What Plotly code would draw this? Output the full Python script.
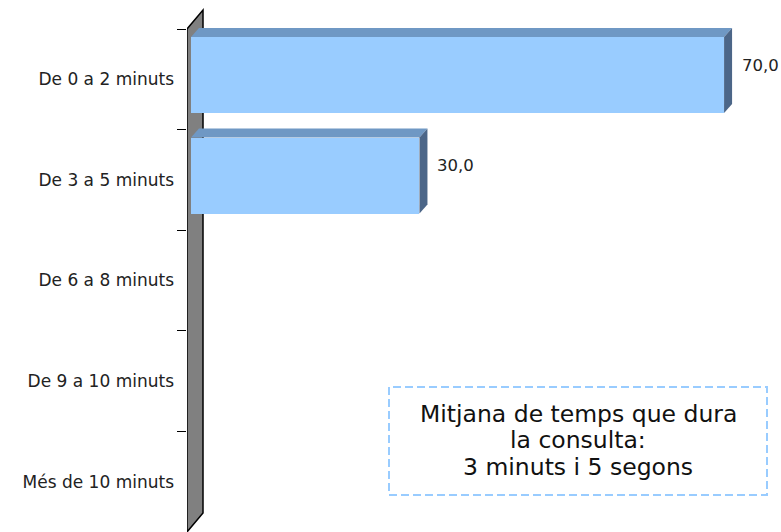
import plotly.graph_objects as go

# Data: share of consultations by duration (%)
categories = ["De 0 a 2 minuts", "De 3 a 5 minuts", "De 6 a 8 minuts",
              "De 9 a 10 minuts", "Més de 10 minuts"]
values = [70.0, 30.0, 0.0, 0.0, 0.0]
note_lines = ["Mitjana de temps que dura", "la consulta:", "3 minuts i 5 segons"]

# Canvas / plot area geometry (pixels)
W, H = 781, 532
ML, MR, MT, MB = 187, 0, 0, 0
PLOT_W = W - ML - MR
PLOT_H = H - MT - MB
X_MAX = 78.0
WALL_TOP_PX = 29                      # top of the front wall edge
N = len(categories)
PX_PER_CAT = (PLOT_H - WALL_TOP_PX) / N
PX_PER_UNIT = PLOT_W / X_MAX
Y_RANGE = [N - 0.5, -0.5 - WALL_TOP_PX / PX_PER_CAT]

# 3D styling
FRONT = "#99CCFF"
TOP = "#6F98C4"
SIDE = "#4C6688"
WALL = "#808080"
FONT = "DejaVu Sans"
bar_depth_x = 8 / PX_PER_UNIT
bar_depth_y = 9 / PX_PER_CAT
wall_depth_x = 16 / PX_PER_UNIT
wall_depth_y = 19 / PX_PER_CAT
bar_base = 4 / PX_PER_UNIT
bar_width = 76 / PX_PER_CAT
bar_offset = -bar_width / 2 - 4.4 / PX_PER_CAT


def px_x(p):
    return (p - ML) / PLOT_W


def px_y(p):
    return 1 - (p - MT) / PLOT_H


def poly(points):
    return "M " + " L ".join(f"{x},{y}" for x, y in points) + " Z"


fig = go.Figure()

fig.add_trace(go.Bar(
    orientation="h",
    y=categories,
    x=values,
    base=bar_base,
    width=bar_width,
    offset=bar_offset,
    marker=dict(color=FRONT, line=dict(width=0)),
    hoverinfo="x+y",
    showlegend=False,
))

shapes = []
# Side wall behind the category axis
y_top, y_bot = -0.5, N - 0.5
shapes.append(dict(
    type="path", xref="x", yref="y", layer="below",
    path=poly([(0, y_top), (wall_depth_x, y_top - wall_depth_y),
               (wall_depth_x, y_bot - wall_depth_y), (0, y_bot)]),
    fillcolor=WALL, line=dict(color="black", width=1.5),
))

annotations = []
for i, (cat, v) in enumerate(zip(categories, values)):
    if v <= 0:
        continue
    y0 = i + bar_offset
    y1 = y0 + bar_width
    x0 = bar_base
    x1 = bar_base + v
    # top face
    shapes.append(dict(
        type="path", xref="x", yref="y", layer="below",
        path=poly([(x0, y0), (x1, y0), (x1 + bar_depth_x, y0 - bar_depth_y),
                   (x0 + bar_depth_x, y0 - bar_depth_y)]),
        fillcolor=TOP, line=dict(width=0),
    ))
    # right side face
    shapes.append(dict(
        type="path", xref="x", yref="y", layer="below",
        path=poly([(x1, y0), (x1 + bar_depth_x, y0 - bar_depth_y),
                   (x1 + bar_depth_x, y1 - bar_depth_y), (x1, y1)]),
        fillcolor=SIDE, line=dict(width=0),
    ))
    annotations.append(dict(
        x=x1, y=i, xref="x", yref="y",
        text=f"{v:.1f}".replace(".", ","),
        showarrow=False, xanchor="left", yanchor="middle",
        xshift=16, yshift=14,
        font=dict(family=FONT, size=16.5, color="#222222"),
    ))

# Note box with dashed border
shapes.append(dict(
    type="rect", xref="paper", yref="paper",
    x0=px_x(389), x1=px_x(767), y0=px_y(495), y1=px_y(387),
    line=dict(color="#99CCFF", width=2, dash="8px,4px"),
    fillcolor="rgba(0,0,0,0)", layer="above",
))
for line_text, cy in zip(note_lines, [414, 440, 467]):
    annotations.append(dict(
        x=px_x(578), y=px_y(cy), xref="paper", yref="paper",
        text=line_text, showarrow=False,
        xanchor="center", yanchor="middle", align="center",
        font=dict(family=FONT, size=23.5, color="#111111"),
    ))

fig.update_layout(
    width=W, height=H,
    margin=dict(l=ML, r=MR, t=MT, b=MB, pad=0),
    paper_bgcolor="white", plot_bgcolor="white",
    shapes=shapes, annotations=annotations,
    xaxis=dict(range=[0, X_MAX], visible=False, fixedrange=True),
    yaxis=dict(
        type="category", categoryorder="array", categoryarray=categories,
        range=Y_RANGE, tickson="boundaries", ticks="outside", ticklen=9,
        tickwidth=1, tickcolor="black", showline=False, showgrid=False,
        zeroline=False, ticklabelstandoff=12,
        tickfont=dict(family=FONT, size=17, color="#222222"),
        fixedrange=True,
    ),
    bargap=0,
)

fig.write_html("out.html")
